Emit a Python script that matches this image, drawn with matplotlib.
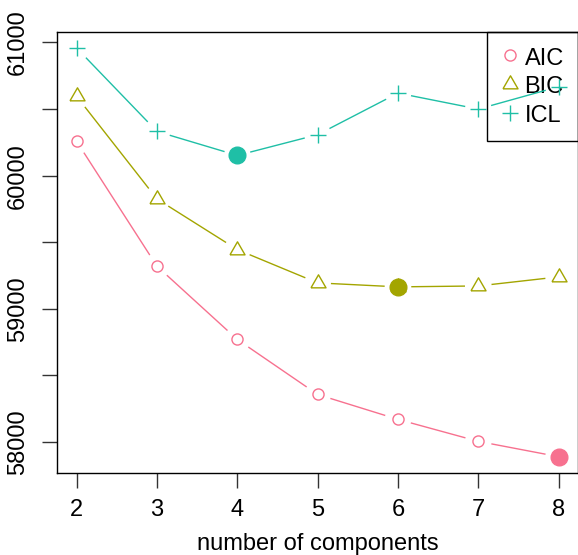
import numpy as np
import matplotlib
matplotlib.use("Agg")
from matplotlib import pyplot as plt

plt.rcParams['font.family'] = ['Liberation Sans', 'DejaVu Sans']

# data
components = [2, 3, 4, 5, 6, 7, 8]
aic = [60257, 59320, 58770, 58357, 58170, 58005, 57890]
bic = [60595, 59825, 59445, 59195, 59165, 59172, 59240]
icl = [60958, 60332, 60152, 60308, 60620, 60500, 60668]
names = ["AIC", "BIC", "ICL"]
colors = ["#F7718F", "#A3A500", "#1FBFA6"]

yticks = [58000, 58500, 59000, 59500, 60000, 60500, 61000]
yticklabels = ["58000", "", "59000", "", "60000", "", "61000"]

# equilateral triangle like R pch 2 (closed)
tri = [(-1.3468, -0.7776), (1.3468, -0.7776), (0.0, 1.5551), (-1.3468, -0.7776)]
markers = ["o", tri, "+"]
msizes = [8, 12.5, 11.5]

fig = plt.figure(figsize=(5.78, 5.55), dpi=100)
ax = fig.add_axes([0.0993, 0.1477, 0.9005, 0.7951])

allv = np.array(aic + bic + icl)
lo, hi = allv.min(), allv.max()
pad = 0.04 * (hi - lo)
ax.set_xlim(min(components) - 0.04 * 6, max(components) + 0.04 * 6)
ax.set_ylim(lo - pad, hi + pad)

gap = 14  # pixels left blank around each point (type="b")
inv = ax.transData.inverted()
for vals, name, col, mk, ms in zip([aic, bic, icl], names, colors, markers, msizes):
    pts = ax.transData.transform(np.column_stack([components, vals]))
    for p0, p1 in zip(pts[:-1], pts[1:]):
        d = p1 - p0
        L = np.hypot(*d)
        if L <= 2 * gap:
            continue
        a = inv.transform(p0 + d / L * gap)
        b = inv.transform(p1 - d / L * gap)
        ax.plot([a[0], b[0]], [a[1], b[1]], color=col, lw=1.0, zorder=3)
    ax.plot(components, vals, linestyle="none", marker=mk, ms=ms,
            markerfacecolor="none", markeredgecolor=col, mew=1.0,
            label=name, zorder=4)
    i = int(np.argmin(vals))
    ax.plot(components[i], vals[i], linestyle="none", marker="o", ms=12,
            color=col, zorder=5)

ax.set_xticks(components)
ax.set_xticklabels([str(c) for c in components])
ax.set_yticks(yticks)
ax.set_yticklabels(yticklabels, rotation=90, va="center")
ax.tick_params(axis="both", length=10.5, width=1.0, labelsize=17, color="#333333")
ax.tick_params(axis="x", pad=8.5)
ax.tick_params(axis="y", pad=10)
for s in ax.spines.values():
    s.set_linewidth(1.0)
ax.set_xlabel("number of components", fontsize=17, labelpad=8)

leg = ax.legend(loc="upper right", bbox_to_anchor=(1.0, 1.0), borderaxespad=0,
                fancybox=False, edgecolor="black", framealpha=1, fontsize=17,
                handlelength=0.8, handleheight=1.0, handletextpad=0.2,
                borderpad=0.6, labelspacing=0.22)
leg.get_frame().set_linewidth(1.0)
leg.set_zorder(1)

fig.savefig("out.png", dpi=100)
